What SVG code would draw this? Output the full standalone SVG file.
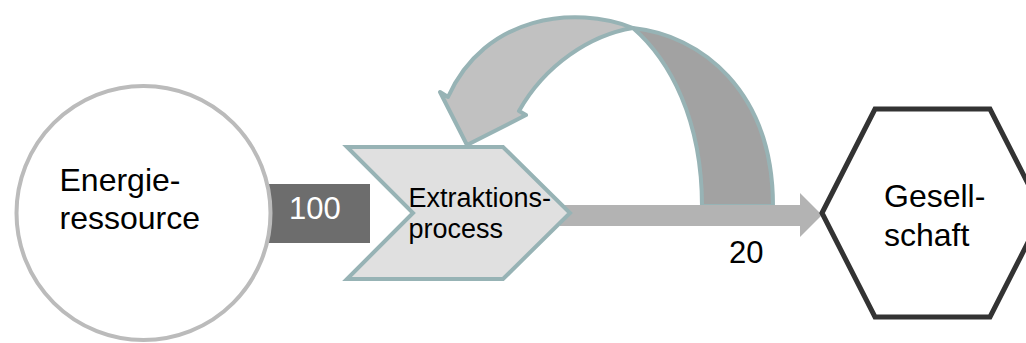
<svg xmlns="http://www.w3.org/2000/svg" width="1026" height="343" viewBox="0 0 1026 343">
<style>
.t{font-family:"Liberation Sans",Arial,sans-serif;fill:#000}
.w{fill:#fff}
.loop{stroke:#97B3B5;stroke-width:4;stroke-linejoin:round}
</style>
<rect width="1026" height="343" fill="#fff"/>
<g id="connectors">
  <rect x="240" y="184" width="130" height="59" fill="#6D6D6D"/>
  <text class="t w" x="289" y="219" font-size="31">100</text>
  <g id="loop">
    <path class="loop" fill="#A2A2A2" d="M633 28 C700 35,773 90,773 206 L702 206 C702 120,670 60,633 28 Z"/>
    <path class="loop" fill="#C1C1C1" d="M633 28 C575 5,485 15,448 97 L440 92 L467 145 L526 115 L519 111 C545 65,590 35,633 28 Z"/>
  </g>
  <path fill="#B3B3B3" d="M560 205 L800 205 L800 193 L822 215 L800 237 L800 226 L560 226 Z"/>
  <text class="t" x="729" y="263" font-size="31">20</text>
</g>
<g id="energieressource">
  <circle cx="143.5" cy="213" r="127" fill="#fff" stroke="#BBBBBB" stroke-width="4"/>
  <text class="t" x="59.5" y="191" font-size="32">Energie-</text>
  <text class="t" x="59.5" y="229" font-size="32">ressource</text>
</g>
<g id="extraktionsprocess">
  <path d="M347 147 L503 147 L570 213 L503 279 L347 279 L413 213 Z" fill="#E0E0E0" stroke="#97B3B5" stroke-width="4"/>
  <text class="t" x="408.5" y="207" font-size="27">Extraktions-</text>
  <text class="t" x="408.5" y="238" font-size="27">process</text>
</g>
<g id="gesellschaft">
  <path d="M822 213 L875 109 L990 109 L1043 213 L990 317 L875 317 Z" fill="#fff" stroke="#333333" stroke-width="5"/>
  <text class="t" x="884" y="207" font-size="32">Gesell-</text>
  <text class="t" x="884" y="246" font-size="32">schaft</text>
</g>
</svg>
